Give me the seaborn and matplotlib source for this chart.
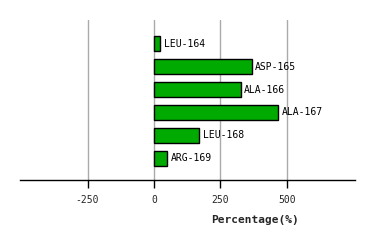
import matplotlib
matplotlib.use("Agg")
import matplotlib.pyplot as plt
import seaborn as sns
import pandas as pd

residues = ["LEU-164", "ASP-165", "ALA-166", "ALA-167", "LEU-168", "ARG-169"]
percentages = [24, 367, 326, 467, 170, 50]
xticks = [-250, 0, 250, 500]

df = pd.DataFrame({"residue": residues, "pct": percentages})

sns.set_theme(style="white")
plt.rcParams['font.family'] = ['DejaVu Sans Mono', 'DejaVu Sans']

fig = plt.figure(figsize=(3.74, 2.4), dpi=100)
ax = fig.add_axes([20/374, 60/240, 335/374, 160/240])

sns.barplot(data=df, x="pct", y="residue", orient="h", color="#00aa00",
            edgecolor="black", linewidth=1, width=0.66, saturation=1, ax=ax, zorder=3)

for i, (r, v) in enumerate(zip(residues, percentages)):
    ax.text(v + 13, i, r, va="center", ha="left", fontsize=7, color="black", zorder=4)

ax.set_xlim(-504, 756)
ax.set_ylim(5.96, -1.05)
ax.set_xticks(xticks)
ax.set_xticklabels([str(t) for t in xticks], fontsize=7)
ax.set_yticks([])
ax.set_ylabel("")
ax.set_xlabel("Percentage(%)", fontsize=8, fontweight="bold")
ax.xaxis.set_label_coords((255 - 20) / 335, -35 / 160)
ax.grid(axis="x", color="#aaaaaa", linewidth=1, zorder=0)
for s in ["top", "left", "right"]:
    ax.spines[s].set_visible(False)
ax.spines["bottom"].set_color("black")
ax.spines["bottom"].set_linewidth(1)
ax.tick_params(axis="x", length=6, width=1, color="black", pad=5, bottom=True)

fig.savefig("out.png", dpi=100)
